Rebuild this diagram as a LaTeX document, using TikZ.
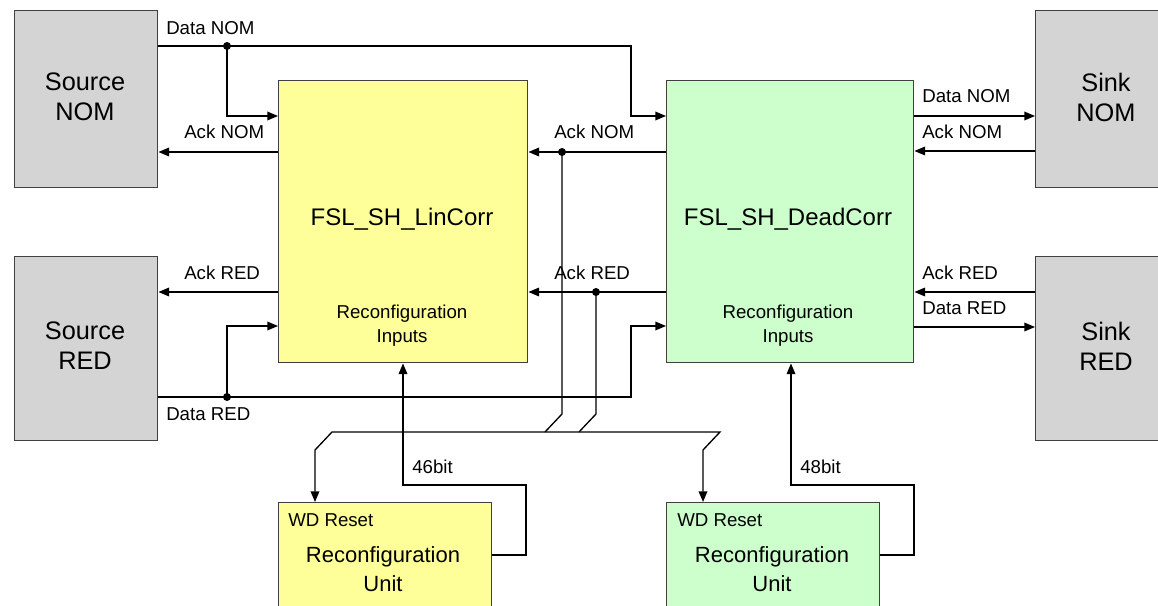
\documentclass[tikz,border=0pt]{standalone}
\usepackage{fontspec}
\setmainfont{Liberation Sans}
\usetikzlibrary{arrows.meta}
\definecolor{srcgray}{HTML}{D4D4D4}
\definecolor{linyel}{HTML}{FFFF99}
\definecolor{deadgrn}{HTML}{CCFFCC}
\definecolor{boxedge}{HTML}{404040}
\begin{document}
\begin{tikzpicture}[x=0.75pt,y=-0.75pt,
  box/.style={draw=boxedge, line width=1.1pt, inner sep=0pt, anchor=north west},
  srcbox/.style={box, fill=srcgray, minimum width=107.25pt},
  linbox/.style={box, fill=linyel},
  deadbox/.style={box, fill=deadgrn},
  wire/.style={line width=1pt, black},
  arr/.style={wire, -{Triangle[length=8pt,width=6.5pt]}},
  lbl/.style={font=\fontsize{14}{16}\selectfont, inner sep=0pt, anchor=base west},
  bigtxt/.style={font=\fontsize{19}{22.5}\selectfont, align=center, inner sep=0pt},
  titletxt/.style={font=\fontsize{18}{22}\selectfont, inner sep=0pt},
  intxt/.style={font=\fontsize{14}{18}\selectfont, align=center, inner sep=0pt},
  unittxt/.style={font=\fontsize{16.5}{21.75}\selectfont, align=center, inner sep=0pt},
  jdot/.style={circle, fill=black, inner sep=0pt, minimum size=6pt}
]
\path[use as bounding box] (0,0) rectangle (1158,606);
\clip (0,0) rectangle (1158,606);
\fill[white] (0,0) rectangle (1158,606);

% ---- boxes
\node[srcbox, minimum height=132.75pt] (srcN) at (14,10) {};
\node[srcbox, minimum height=138pt] (srcR) at (14,256) {};
\node[box, fill=srcgray, minimum width=123.75pt, minimum height=132.75pt] (sinkN) at (1035,10) {};
\node[box, fill=srcgray, minimum width=123.75pt, minimum height=138pt] (sinkR) at (1035,256) {};
\node[linbox, minimum width=186.75pt, minimum height=211.5pt] (lin) at (278,80) {};
\node[deadbox, minimum width=185.25pt, minimum height=211.5pt] (dead) at (666,80) {};
\node[linbox, minimum width=159.75pt, minimum height=103.5pt] (unitL) at (278,502) {};
\node[deadbox, minimum width=159.75pt, minimum height=103.5pt] (unitR) at (666,502) {};

% ---- box texts
\node[bigtxt] (tSrcN) at (85,97) {Source\\NOM};
\node[bigtxt] (tSrcR) at (85,346) {Source\\RED};
\node[bigtxt] (tSinkN) at (1106,97) {Sink\\NOM};
\node[bigtxt] (tSinkR) at (1106,346) {Sink\\RED};
\node[titletxt] (tLin) at (402,219) {FSL\_SH\_LinCorr};
\node[titletxt] (tDead) at (788,219) {FSL\_SH\_DeadCorr};
\node[intxt] (tLinIn) at (402,326) {Reconfiguration\\Inputs};
\node[intxt] (tDeadIn) at (788,326) {Reconfiguration\\Inputs};
\node[unittxt] (tUnitL) at (383,569) {Reconfiguration\\Unit};
\node[unittxt] (tUnitR) at (772,569) {Reconfiguration\\Unit};
\node[lbl] (wdL) at (288,526) {WD Reset};
\node[lbl] (wdR) at (677,526) {WD Reset};

% ---- junction dots
\node[jdot] (jDN) at (227,46) {};
\node[jdot] (jDR) at (227,397) {};
\node[jdot] (jAN) at (562,152) {};
\node[jdot] (jAR) at (596,292) {};

% ---- NOM data / ack
\draw[wire] (srcN.east |- jDN) -- (jDN.center);
\draw[arr] (jDN.center) -- (631,46) |- (dead.west |- 0,116);
\draw[arr] (jDN.center) |- (lin.west |- 0,116);
\draw[arr] (lin.west |- 0,152) -- (srcN.east |- 0,152);
\draw[wire] (dead.west |- jAN) -- (jAN.center);
\draw[arr] (jAN.center) -- (lin.east |- jAN);

% ---- RED data / ack
\draw[arr] (lin.west |- 0,292) -- (srcR.east |- 0,292);
\draw[wire] (dead.west |- jAR) -- (jAR.center);
\draw[arr] (jAR.center) -- (lin.east |- jAR);
\draw[wire] (srcR.east |- jDR) -- (jDR.center);
\draw[arr] (jDR.center) -- (631,397) |- (dead.west |- 0,326);
\draw[arr] (jDR.center) |- (lin.west |- 0,326);

% ---- sink side
\draw[arr] (dead.east |- 0,116) -- (sinkN.west |- 0,116);
\draw[arr] (sinkN.west |- 0,151) -- (dead.east |- 0,151);
\draw[arr] (sinkR.west |- 0,292) -- (dead.east |- 0,292);
\draw[arr] (dead.east |- 0,327) -- (sinkR.west |- 0,327);

% ---- WD reset bus
\draw[wire] (jAN.center) -- (562,414) -- (545,432);
\draw[wire] (jAR.center) -- (596,414) -- (579,432);
\draw[arr] (545,432) -- (332,432) -- (315,450) -- (315,0 |- unitL.north);
\draw[arr] (545,432) -- (720,432) -- (703,450) -- (703,0 |- unitR.north);

% ---- reconfiguration buses
\draw[arr] (unitL.east |- 0,555) -- (526,555) -- (526,485) -- (403,485) -- (403,0 |- lin.south);
\draw[arr] (unitR.east |- 0,555) -- (914,555) -- (914,485) -- (791,485) -- (791,0 |- dead.south);

% ---- signal labels
\node[lbl] (lDN1) at (166,35) {Data NOM};
\node[lbl] (lAN1) at (184,139) {Ack NOM};
\node[lbl] (lAR1) at (184,280) {Ack RED};
\node[lbl] (lDR1) at (166,420) {Data RED};
\node[lbl] (lAN2) at (554,139) {Ack NOM};
\node[lbl] (lAR2) at (554,280) {Ack RED};
\node[lbl] (lDN3) at (922,103) {Data NOM};
\node[lbl] (lAN3) at (922,139) {Ack NOM};
\node[lbl] (lAR3) at (922,280) {Ack RED};
\node[lbl] (lDR3) at (922,315) {Data RED};
\node[lbl] (l46) at (412,473) {46bit};
\node[lbl] (l48) at (800,473) {48bit};
\end{tikzpicture}
\end{document}
